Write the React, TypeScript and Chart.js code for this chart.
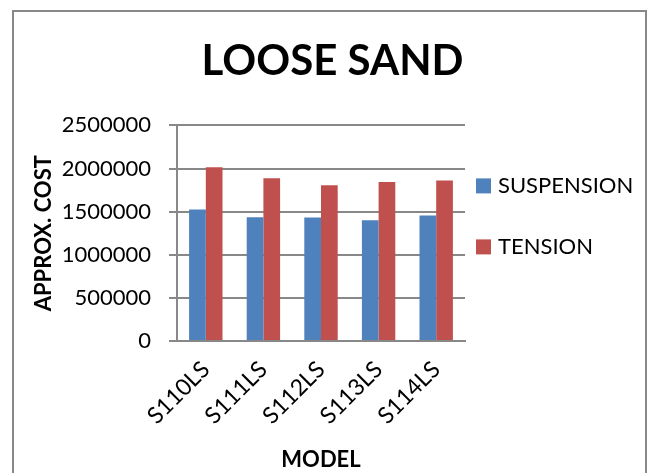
import React, { useEffect, useRef } from 'react';
import { Chart, registerables } from 'chart.js';

Chart.register(...registerables);

const categories = ['S110LS', 'S111LS', 'S112LS', 'S113LS', 'S114LS'];
const suspensionValues = [1524000, 1435000, 1432000, 1400000, 1455000];
const tensionValues = [2014000, 1887000, 1806000, 1844000, 1860000];
const seriesNames = ['SUSPENSION', 'TENSION'];
const seriesColors = ['#4F81BD', '#C0504D'];
const yMin = 0;
const yMax = 2500000;
const yStep = 500000;

const FONT = 'Lato';
const GRID = '#888888';

const sideLegend = {
  id: 'sideLegend',
  afterDraw(chart: any) {
    const { ctx, chartArea } = chart;
    ctx.save();
    ctx.font = `22px ${FONT}`;
    ctx.textBaseline = 'middle';
    ctx.textAlign = 'left';
    chart.data.datasets.forEach((ds: any, i: number) => {
      const x = chartArea.right + 11;
      const y = chartArea.top + 53 + i * 61;
      ctx.fillStyle = ds.backgroundColor;
      ctx.fillRect(x, y, 15, 15);
      ctx.fillStyle = '#000';
      ctx.fillText(ds.label, x + 22, y + 8);
    });
    ctx.restore();
  },
};

export default function App() {
  const ref = useRef<HTMLCanvasElement>(null);

  useEffect(() => {
    if (!ref.current) return;
    Chart.defaults.font.family = FONT;
    Chart.defaults.color = '#000';
    const chart = new Chart(ref.current, {
      type: 'bar',
      data: {
        labels: categories,
        datasets: [
          { label: seriesNames[0], data: suspensionValues, backgroundColor: seriesColors[0], borderWidth: 0 },
          { label: seriesNames[1], data: tensionValues, backgroundColor: seriesColors[1], borderWidth: 0 },
        ],
      },
      options: {
        animation: false,
        responsive: false,
        layout: { padding: { left: 14, right: 0, top: 0, bottom: 0 } },
        datasets: { bar: { categoryPercentage: 0.58, barPercentage: 1 } },
        plugins: {
          legend: { display: false },
          tooltip: { enabled: false },
          title: {
            display: true,
            text: 'LOOSE SAND',
            color: '#000',
            font: { family: FONT, size: 42, weight: 'bold' },
            padding: { top: 36, bottom: 39 },
          },
        },
        scales: {
          x: {
            grid: { display: false, drawTicks: false },
            border: { display: true, color: GRID, width: 2 },
            ticks: {
              autoSkip: false,
              minRotation: 45,
              maxRotation: 45,
              padding: 15,
              color: '#000',
              font: { family: FONT, size: 23 },
            },
            title: {
              display: true,
              text: 'MODEL',
              color: '#000',
              font: { family: FONT, size: 22, weight: 'bold' },
              padding: { top: 4, bottom: 0 },
            },
            afterFit: (scale: any) => {
              scale.height = 132;
            },
          },
          y: {
            min: yMin,
            max: yMax,
            grid: { color: GRID, lineWidth: 2, tickLength: 8, drawTicks: true },
            border: { display: true, color: GRID, width: 2 },
            ticks: {
              stepSize: yStep,
              padding: 18,
              color: '#000',
              font: { family: FONT, size: 22 },
              callback: (v: any) => String(v),
            },
            title: {
              display: true,
              text: 'APPROX. COST',
              color: '#000',
              font: { family: FONT, size: 22, weight: 'bold' },
              padding: { top: 17, bottom: 4 },
            },
            afterFit: (scale: any) => {
              scale.width = 163;
            },
          },
          spacer: {
            type: 'linear',
            axis: 'y',
            position: 'right',
            display: true,
            grid: { display: false, drawTicks: false },
            border: { display: false },
            ticks: { display: false },
            afterFit: (scale: any) => {
              scale.width = 186;
            },
          },
        },
      },
      plugins: [sideLegend],
    });
    return () => chart.destroy();
  }, []);

  return (
    <div style={{ position: 'fixed', left: 0, top: 0, width: 651, height: 473, overflow: 'hidden', background: '#fff' }}>
      <div
        style={{
          position: 'absolute',
          left: 12,
          top: 10,
          width: 635,
          height: 520,
          border: '2px solid #888',
          boxSizing: 'border-box',
        }}
      />
      <canvas ref={ref} width={651} height={473} style={{ position: 'absolute', left: 0, top: 0 }} />
    </div>
  );
}
